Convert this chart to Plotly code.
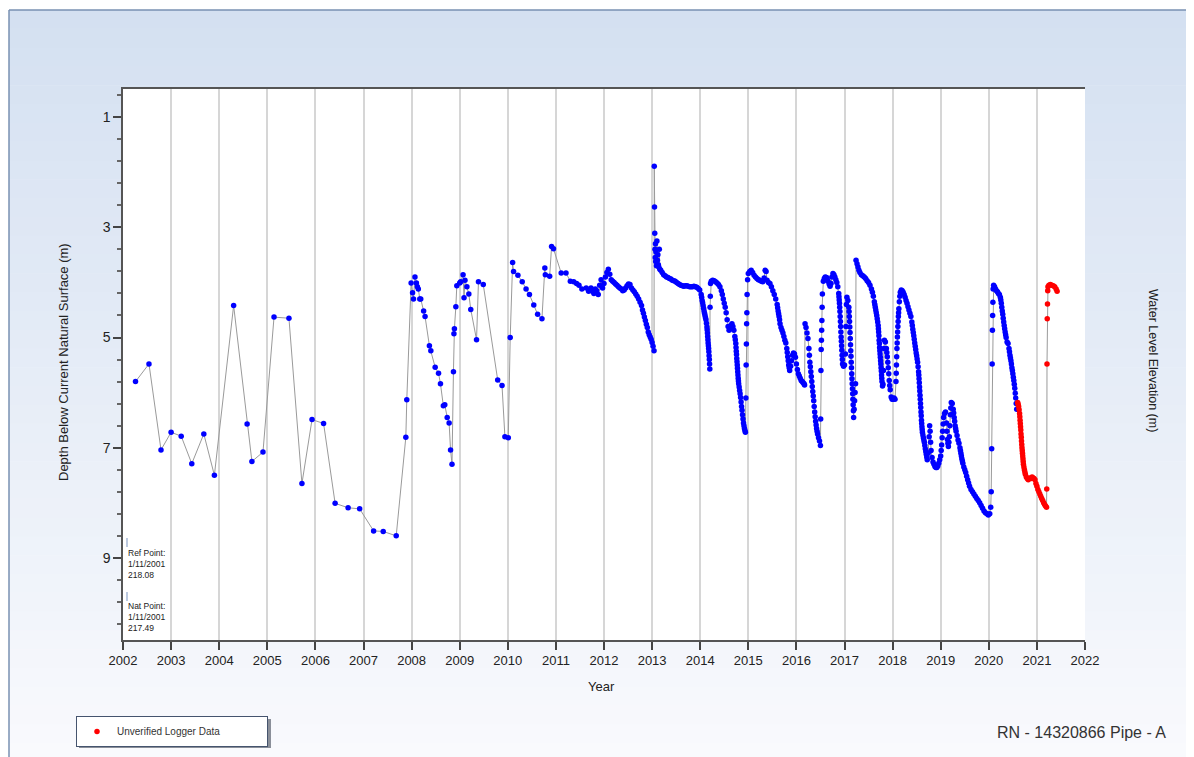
import plotly.graph_objects as go

# ---------------- data ----------------
manual_year = [2002.26, 2002.54, 2002.79, 2003.00, 2003.21, 2003.43, 2003.68, 2003.90,
               2004.30, 2004.58, 2004.68, 2004.91, 2005.14, 2005.45, 2005.72, 2005.93,
               2006.17, 2006.41, 2006.68, 2006.92, 2007.21, 2007.41, 2007.68]
manual_depth = [5.80, 5.48, 7.04, 6.72, 6.79, 7.29, 6.75, 7.50,
                4.42, 6.57, 7.25, 7.08, 4.63, 4.65, 7.65, 6.49,
                6.56, 8.01, 8.09, 8.11, 8.51, 8.52, 8.60]

logger_year = [
    2007.88, 2007.90, 2007.99, 2008.02, 2008.04, 2008.07, 2008.10, 2008.12, 2008.14, 2008.17,
    2008.19, 2008.25, 2008.28, 2008.37, 2008.40, 2008.49, 2008.56, 2008.60, 2008.66, 2008.69,
    2008.74, 2008.78, 2008.81, 2008.84, 2008.87, 2008.88, 2008.89, 2008.92, 2008.94, 2009.00,
    2009.02, 2009.07, 2009.09, 2009.11, 2009.15, 2009.19, 2009.23, 2009.35, 2009.39, 2009.49,
    2009.79, 2009.88, 2009.94, 2010.01, 2010.05, 2010.10, 2010.12, 2010.21, 2010.30, 2010.38,
    2010.45, 2010.54, 2010.62, 2010.71, 2010.77, 2010.78, 2010.87, 2010.91, 2010.95, 2011.11,
    2011.21, 2011.30, 2011.37, 2011.43, 2011.48, 2011.54, 2011.63, 2011.68,
    2011.70, 2011.73, 2011.76, 2011.79, 2011.82, 2011.85, 2011.88, 2011.91, 2011.94, 2011.97,
    2012.00, 2012.03, 2012.06, 2012.09, 2012.12, 2012.15, 2012.18, 2012.21, 2012.24, 2012.27,
    2012.30, 2012.33, 2012.36, 2012.39, 2012.42, 2012.45, 2012.48, 2012.51, 2012.54, 2012.57,
    2012.60, 2012.63, 2012.66, 2012.69, 2012.72, 2012.75, 2012.78, 2012.80, 2012.82, 2012.84,
    2012.86, 2012.88, 2012.90, 2012.92, 2012.94, 2012.96, 2012.98, 2013.00, 2013.02, 2013.04,
    2013.045, 2013.05, 2013.055, 2013.06, 2013.065, 2013.07, 2013.075, 2013.08, 2013.09, 2013.10,
    2013.11, 2013.12, 2013.13, 2013.14, 2013.15, 2013.16, 2013.18, 2013.21, 2013.24, 2013.27,
    2013.30, 2013.33, 2013.36, 2013.39, 2013.42, 2013.45, 2013.48, 2013.51, 2013.54, 2013.57,
    2013.60, 2013.63, 2013.66, 2013.69, 2013.72, 2013.75, 2013.78, 2013.81, 2013.84, 2013.87,
    2013.90, 2013.93, 2013.96, 2013.99, 2014.02, 2014.04, 2014.06, 2014.08, 2014.10, 2014.12,
    2014.14, 2014.15, 2014.16, 2014.17, 2014.18, 2014.19, 2014.20, 2014.205, 2014.21, 2014.215,
    2014.23, 2014.26, 2014.29, 2014.32, 2014.35, 2014.38, 2014.41, 2014.44, 2014.46, 2014.48,
    2014.50, 2014.52, 2014.54, 2014.56, 2014.58, 2014.60, 2014.62, 2014.64, 2014.66, 2014.68,
    2014.70, 2014.72, 2014.74, 2014.75, 2014.76, 2014.77, 2014.78, 2014.79, 2014.80, 2014.82,
    2014.84, 2014.86, 2014.88, 2014.90, 2014.92, 2014.94, 2014.95, 2014.955, 2014.96, 2014.965,
    2014.97, 2014.975, 2014.985, 2015.00, 2015.03, 2015.06, 2015.09, 2015.12, 2015.15, 2015.18,
    2015.21, 2015.24, 2015.27, 2015.30, 2015.33, 2015.35, 2015.37, 2015.39, 2015.42, 2015.45,
    2015.48, 2015.51, 2015.54, 2015.57, 2015.60, 2015.62, 2015.64, 2015.66, 2015.68, 2015.70,
    2015.72, 2015.74, 2015.76, 2015.78, 2015.80, 2015.82, 2015.84, 2015.86, 2015.88, 2015.90,
    2015.92, 2015.94, 2015.96, 2015.98, 2016.00, 2016.02, 2016.04, 2016.06, 2016.08, 2016.10,
    2016.12, 2016.14, 2016.16, 2016.17, 2016.18, 2016.20, 2016.22, 2016.24, 2016.26, 2016.28,
    2016.30, 2016.32, 2016.34, 2016.36, 2016.38, 2016.40, 2016.42, 2016.44, 2016.46, 2016.48,
    2016.50, 2016.505, 2016.51, 2016.515, 2016.52, 2016.525, 2016.53, 2016.535, 2016.54, 2016.56,
    2016.58, 2016.60, 2016.62, 2016.64, 2016.66, 2016.68, 2016.70, 2016.72, 2016.74, 2016.76,
    2016.78, 2016.80, 2016.82, 2016.84, 2016.86, 2016.88, 2016.89, 2016.90, 2016.91, 2016.92,
    2016.93, 2016.94, 2016.95, 2016.96, 2016.98, 2017.00, 2017.02, 2017.03, 2017.04, 2017.05,
    2017.07, 2017.09, 2017.10, 2017.11, 2017.12, 2017.13, 2017.14, 2017.15, 2017.16, 2017.17,
    2017.18, 2017.19, 2017.20, 2017.21, 2017.22, 2017.23, 2017.24, 2017.26, 2017.28, 2017.30,
    2017.32, 2017.35, 2017.38, 2017.41, 2017.44, 2017.47, 2017.50, 2017.53, 2017.56, 2017.58,
    2017.60, 2017.62, 2017.64, 2017.66, 2017.68, 2017.70, 2017.71, 2017.72, 2017.73, 2017.74,
    2017.75, 2017.76, 2017.77, 2017.78, 2017.79, 2017.80, 2017.81, 2017.82, 2017.83, 2017.85,
    2017.87, 2017.89, 2017.91, 2017.93, 2017.95, 2017.97, 2017.99, 2018.01, 2018.03, 2018.05,
    2018.07, 2018.08, 2018.09, 2018.10, 2018.11, 2018.12, 2018.13, 2018.14, 2018.15, 2018.16,
    2018.18, 2018.20, 2018.22, 2018.24, 2018.26, 2018.28, 2018.30, 2018.32, 2018.34, 2018.36,
    2018.38, 2018.40, 2018.42, 2018.44, 2018.46, 2018.48, 2018.50, 2018.52, 2018.54, 2018.55,
    2018.56, 2018.57, 2018.58, 2018.59, 2018.60, 2018.61, 2018.62, 2018.64, 2018.66, 2018.68,
    2018.70, 2018.72, 2018.74, 2018.76, 2018.77, 2018.78, 2018.79, 2018.80, 2018.82, 2018.84,
    2018.86, 2018.88, 2018.90, 2018.92, 2018.94, 2018.96, 2018.98, 2019.00, 2019.02, 2019.04,
    2019.06, 2019.08, 2019.10, 2019.12, 2019.14, 2019.16, 2019.18, 2019.20, 2019.22, 2019.24,
    2019.26, 2019.28, 2019.30, 2019.32, 2019.34, 2019.36, 2019.38, 2019.40, 2019.42, 2019.44,
    2019.46, 2019.48, 2019.50, 2019.52, 2019.54, 2019.56, 2019.58, 2019.60, 2019.63, 2019.66,
    2019.69, 2019.72, 2019.75, 2019.78, 2019.81, 2019.84, 2019.87, 2019.90, 2019.93, 2019.96,
    2019.99, 2020.02, 2020.04, 2020.05, 2020.06, 2020.07, 2020.075, 2020.08, 2020.085, 2020.09,
    2020.10, 2020.12, 2020.14, 2020.16, 2020.18, 2020.20, 2020.22, 2020.24, 2020.26, 2020.28,
    2020.30, 2020.32, 2020.34, 2020.36, 2020.38, 2020.40, 2020.42, 2020.44, 2020.46, 2020.48,
    2020.50, 2020.52, 2020.54, 2020.56, 2020.58]
logger_depth = [
    6.81, 6.13, 4.01, 4.19, 4.30, 3.90, 4.01, 4.08, 4.12, 4.30,
    4.30, 4.52, 4.62, 5.15, 5.24, 5.54, 5.65, 5.84, 6.24, 6.22,
    6.45, 6.55, 7.04, 7.30, 5.62, 4.93, 4.84, 4.44, 4.06, 4.01,
    3.99, 3.86, 4.28, 3.96, 4.08, 4.21, 4.49, 5.04, 3.99, 4.04,
    5.77, 5.87, 6.80, 6.82, 5.00, 3.64, 3.80, 3.87, 3.99, 4.12,
    4.22, 4.41, 4.58, 4.66, 3.74, 3.86, 3.89, 3.35, 3.39, 3.83,
    3.83, 3.98, 3.99, 4.02, 4.05, 4.12, 4.10, 4.16,
    4.14, 4.10, 4.16, 4.20, 4.12, 4.15, 4.22, 4.05, 3.95, 4.10,
    4.02, 3.90, 3.82, 3.76, 3.85, 3.95, 3.98, 4.00, 4.03, 4.05,
    4.08, 4.10, 4.12, 4.15, 4.14, 4.10, 4.06, 4.03, 4.04, 4.10,
    4.14, 4.17, 4.21, 4.25, 4.30, 4.36, 4.42, 4.50, 4.56, 4.63,
    4.69, 4.76, 4.82, 4.90, 4.95, 4.99, 5.03, 5.09, 5.16, 5.24,
    1.89, 2.63, 3.11, 3.40, 3.55, 3.30, 3.62, 3.45, 3.70, 3.25,
    3.60, 3.50, 3.68, 3.72, 3.40, 3.76, 3.78, 3.82, 3.86, 3.88,
    3.90, 3.91, 3.93, 3.94, 3.96, 3.97, 3.98, 4.00, 4.02, 4.04,
    4.05, 4.06, 4.07, 4.06, 4.06, 4.07, 4.08, 4.08, 4.08, 4.07,
    4.08, 4.09, 4.11, 4.14, 4.22, 4.33, 4.42, 4.52, 4.60, 4.68,
    4.81, 4.92, 5.04, 5.15, 5.26, 5.40, 5.57, 4.45, 4.25, 4.02,
    3.98, 3.96, 3.97, 3.99, 4.01, 4.04, 4.08, 4.15, 4.22, 4.30,
    4.38, 4.45, 4.55, 4.68, 4.80, 4.87, 4.83, 4.78, 4.75, 4.80,
    4.87, 4.98, 5.11, 5.25, 5.38, 5.50, 5.62, 5.74, 5.84, 5.96,
    6.09, 6.25, 6.40, 6.55, 6.65, 6.72, 6.10, 5.50, 5.12, 4.75,
    4.55, 4.22, 3.95, 3.84, 3.80, 3.78, 3.82, 3.87, 3.90, 3.93,
    3.95, 3.96, 3.98, 3.99, 3.92, 3.78, 3.80, 3.96, 4.00, 4.02,
    4.08, 4.15, 4.22, 4.30, 4.40, 4.52, 4.62, 4.75, 4.82, 4.87,
    4.92, 4.98, 5.05, 5.10, 5.20, 5.35, 5.50, 5.60, 5.52, 5.42,
    5.32, 5.28, 5.30, 5.36, 5.48, 5.58, 5.66, 5.70, 5.74, 5.78,
    5.80, 5.82, 5.84, 5.86, 4.75, 4.82, 4.92, 5.02, 5.20, 5.45,
    5.62, 5.80, 5.98, 6.15, 6.35, 6.52, 6.65, 6.75, 6.82, 6.88,
    6.96, 6.48, 5.60, 5.22, 5.05, 4.87, 4.69, 4.45, 4.21, 3.98,
    3.93, 3.90, 3.91, 3.92, 3.98, 4.03, 4.07, 4.02, 3.90, 3.84,
    3.86, 3.90, 3.95, 4.00, 4.08, 4.20, 4.32, 4.45, 4.62, 4.80,
    4.99, 5.15, 5.32, 5.48, 5.52, 5.50, 5.30, 4.80, 4.40, 4.27,
    4.33, 4.45, 4.62, 4.81, 5.02, 5.24, 5.45, 5.66, 5.84, 6.02,
    6.22, 6.45, 6.30, 6.15, 6.00, 5.84, 3.60, 3.66, 3.72, 3.78,
    3.82, 3.86, 3.88, 3.90, 3.93, 3.97, 4.00, 4.05, 4.12, 4.18,
    4.25, 4.35, 4.45, 4.55, 4.66, 4.78, 4.90, 5.05, 5.18, 5.30,
    5.42, 5.55, 5.68, 5.80, 5.88, 5.85, 5.60, 5.20, 5.05, 5.08,
    5.20, 5.35, 5.55, 5.78, 5.95, 6.08, 6.12, 6.12, 6.10, 6.12,
    5.80, 5.50, 5.20, 4.99, 4.80, 4.62, 4.48, 4.35, 4.25, 4.18,
    4.14, 4.15, 4.18, 4.22, 4.27, 4.33, 4.38, 4.44, 4.50, 4.56,
    4.62, 4.72, 4.85, 4.97, 5.10, 5.22, 5.33, 5.45, 5.62, 5.75,
    5.90, 6.05, 6.20, 6.35, 6.50, 6.62, 6.72, 6.82, 6.90, 7.02,
    7.12, 7.22, 7.10, 6.80, 6.60, 6.70, 6.90, 7.05, 7.18, 7.26,
    7.30, 7.34, 7.36, 7.36, 7.33, 7.28, 7.22, 7.15, 6.95, 6.70,
    6.45, 6.38, 6.35, 6.55, 6.85, 6.98, 6.80, 6.40, 6.18, 6.20,
    6.30, 6.45, 6.60, 6.70, 6.78, 6.86, 6.92, 7.00, 7.10, 7.20,
    7.28, 7.35, 7.40, 7.45, 7.52, 7.58, 7.64, 7.70, 7.76, 7.80,
    7.84, 7.88, 7.92, 7.96, 8.00, 8.05, 8.10, 8.15, 8.18, 8.20,
    8.22, 8.20, 8.08, 7.80, 7.02, 5.48, 4.87, 4.60, 4.36, 4.12,
    4.05, 4.08, 4.12, 4.15, 4.17, 4.20, 4.22, 4.27, 4.38, 4.52,
    4.65, 4.78, 4.90, 5.00, 5.08, 5.11, 5.20, 5.32, 5.42, 5.55,
    5.66, 5.78, 5.92, 6.10, 6.30]

# further readings on the steep stretches of the logger record
logger_extra_year = [
    2014.03, 2014.05, 2014.07, 2014.09, 2014.11, 2014.13, 2014.145, 2014.155, 2014.165, 2014.175,
    2014.185, 2014.195, 2014.73, 2014.745, 2014.755, 2014.765, 2014.775, 2014.785, 2014.795, 2014.81,
    2014.83, 2014.85, 2014.87, 2014.89, 2014.91, 2014.93, 2015.61, 2015.63, 2015.65, 2015.81,
    2015.83, 2015.85, 2016.27, 2016.29, 2016.31, 2016.33, 2016.35, 2016.37, 2016.39, 2016.41,
    2016.43, 2016.885, 2016.895, 2016.905, 2016.915, 2016.925, 2016.935, 2016.945, 2016.955, 2017.095,
    2017.105, 2017.115, 2017.125, 2017.135, 2017.145, 2017.155, 2017.165, 2017.175, 2017.185, 2017.63,
    2017.65, 2017.67, 2017.69, 2017.705, 2017.715, 2017.725, 2017.735, 2017.745, 2017.755, 2017.765,
    2017.775, 2017.88, 2017.90, 2017.92, 2017.94, 2018.075, 2018.085, 2018.095, 2018.105, 2018.115,
    2018.125, 2018.41, 2018.43, 2018.45, 2018.47, 2018.49, 2018.51, 2018.53, 2018.545, 2018.555,
    2018.565, 2018.575, 2018.585, 2018.595, 2018.605, 2018.615, 2018.63, 2018.65, 2018.67, 2018.69,
    2018.71, 2019.01, 2019.03, 2019.05, 2019.13, 2019.15, 2019.17, 2019.19, 2019.21, 2019.27,
    2019.29, 2019.31, 2019.41, 2019.43, 2019.45, 2020.25, 2020.27, 2020.29, 2020.31, 2020.33,
    2020.35, 2020.43, 2020.45, 2020.47, 2020.49, 2020.51, 2020.53, 2020.55, 2020.57]
logger_extra_depth = [
    4.27, 4.37, 4.47, 4.56, 4.64, 4.74, 4.86, 4.98, 5.10, 5.20,
    5.33, 5.48, 5.04, 5.18, 5.31, 5.44, 5.56, 5.68, 5.79, 5.90,
    6.02, 6.17, 6.32, 6.48, 6.60, 6.69, 4.46, 4.57, 4.68, 5.27,
    5.42, 5.55, 5.32, 5.53, 5.71, 5.89, 6.06, 6.25, 6.44, 6.59,
    6.70, 4.26, 4.38, 4.53, 4.71, 4.90, 5.07, 5.23, 5.40, 4.53,
    4.71, 4.91, 5.13, 5.34, 5.55, 5.75, 5.93, 6.12, 6.33, 4.40,
    4.50, 4.60, 4.72, 4.84, 4.97, 5.11, 5.24, 5.36, 5.48, 5.61,
    5.74, 5.27, 5.45, 5.66, 5.87, 5.65, 5.35, 5.10, 4.90, 4.71,
    4.55, 4.78, 4.91, 5.03, 5.16, 5.28, 5.39, 5.53, 5.68, 5.82,
    5.97, 6.12, 6.27, 6.42, 6.56, 6.67, 6.77, 6.86, 6.96, 7.07,
    7.17, 7.05, 6.82, 6.57, 6.70, 6.92, 6.90, 6.60, 6.28, 6.37,
    6.52, 6.65, 7.05, 7.15, 7.24, 4.32, 4.45, 4.58, 4.72, 4.84,
    4.95, 5.26, 5.37, 5.48, 5.60, 5.72, 5.85, 6.01, 6.20]

unverified_year = [
    2020.60, 2020.61, 2020.62, 2020.63, 2020.64, 2020.645, 2020.65, 2020.655, 2020.66, 2020.665,
    2020.67, 2020.675, 2020.68, 2020.685, 2020.69, 2020.695, 2020.70, 2020.705, 2020.71, 2020.715,
    2020.72, 2020.73, 2020.74, 2020.75, 2020.76, 2020.78, 2020.80, 2020.82, 2020.84, 2020.86,
    2020.88, 2020.90, 2020.92, 2020.94, 2020.96, 2020.98, 2021.00, 2021.02, 2021.04, 2021.06,
    2021.08, 2021.10, 2021.12, 2021.14, 2021.16, 2021.18, 2021.20, 2021.205, 2021.21, 2021.215,
    2021.22, 2021.225, 2021.23, 2021.25, 2021.28, 2021.31, 2021.34, 2021.37, 2021.40, 2021.42]
unverified_depth = [
    6.18, 6.21, 6.25, 6.31, 6.38, 6.44, 6.50, 6.56, 6.62, 6.68,
    6.75, 6.81, 6.88, 6.94, 7.00, 7.05, 7.10, 7.15, 7.20, 7.25,
    7.30, 7.35, 7.40, 7.44, 7.48, 7.53, 7.56, 7.58, 7.56, 7.55,
    7.56, 7.53, 7.55, 7.56, 7.58, 7.65, 7.70, 7.76, 7.80, 7.84,
    7.88, 7.92, 7.96, 8.00, 8.03, 8.06, 8.08, 7.75, 5.48, 4.66,
    4.39, 4.15, 4.08, 4.05, 4.04, 4.05, 4.06, 4.08, 4.12, 4.16]

year_ticks = list(range(2002, 2023))
depth_ticks = [1, 3, 5, 7, 9]
elev_ticks = [207, 209, 211, 213, 215, 217]
nat_point_elev = 217.49
legend_label = "Unverified Logger Data"
site_label = "RN - 14320866 Pipe - A"

# ---------------- geometry helpers (page pixels; page body has an 8px margin) ----------------
OFF = 8
WIN_W, WIN_H = 1194, 757
W, H = WIN_W - OFF, WIN_H - OFF
L, R, T, B = 123, 1085, 89, 640  # plot area in page pixels
PW, PH = R - L, B - T


def px(x):
    return (x - L) / PW


def py(y):
    return (B - y) / PH


FONT = "Liberation Sans, Arial, sans-serif"

# merge the logger readings in time order
pairs = sorted(zip(logger_year + logger_extra_year, logger_depth + logger_extra_depth))
logger_all_year = [p[0] for p in pairs]
logger_all_depth = [p[1] for p in pairs]

fig = go.Figure()

all_year = manual_year + logger_all_year + unverified_year
all_depth = manual_depth + logger_all_depth + unverified_depth
fig.add_trace(go.Scatter(x=all_year, y=all_depth, mode="lines",
                         line=dict(color="#9a9a9a", width=1), showlegend=False,
                         hoverinfo="skip"))
fig.add_trace(go.Scatter(x=manual_year + logger_all_year, y=manual_depth + logger_all_depth,
                         mode="markers", marker=dict(color="#0000ff", size=5.5),
                         showlegend=False, name="Logger Data"))
fig.add_trace(go.Scatter(x=unverified_year, y=unverified_depth, mode="markers",
                         marker=dict(color="#ff0000", size=5.5), name=legend_label,
                         showlegend=True))

# ---------------- background panel (gradient) ----------------
shapes = []
top_c = (212, 224, 241)
bot_c = (249, 250, 253)
y0p, y1p = 10, WIN_H + 5
n = 40
for i in range(n):
    a = y0p + (y1p - y0p) * i / n
    b = y0p + (y1p - y0p) * (i + 1) / n
    t = (i + 0.5) / n
    c = tuple(int(round(top_c[k] + (bot_c[k] - top_c[k]) * t)) for k in range(3))
    shapes.append(dict(type="rect", xref="paper", yref="paper", layer="below",
                       x0=px(9), x1=px(WIN_W + 5), y0=py(b + 0.5), y1=py(a),
                       line=dict(width=0), fillcolor="rgb(%d,%d,%d)" % c))
shapes.append(dict(type="rect", xref="paper", yref="paper", layer="below",
                   x0=0, x1=1, y0=0, y1=1, line=dict(width=0), fillcolor="white"))
shapes.append(dict(type="line", xref="paper", yref="paper", x0=px(9), x1=px(WIN_W + 5),
                   y0=py(10), y1=py(10), line=dict(color="#7890b2", width=1.5)))
shapes.append(dict(type="line", xref="paper", yref="paper", x0=px(9), x1=px(9),
                   y0=py(10), y1=py(WIN_H + 5), line=dict(color="#7890b2", width=1.5)))
# legend shadow (offset 2px right/down of the legend box)
LEG_X, LEG_Y, LEG_W, LEG_H = 76, 716, 192, 30
shapes.append(dict(type="rect", xref="paper", yref="paper",
                   x0=px(LEG_X + 3), x1=px(LEG_X + LEG_W + 3),
                   y0=py(LEG_Y + LEG_H + 2), y1=py(LEG_Y + 3),
                   line=dict(width=0), fillcolor="#8a8f99"))
for (ya, yb) in [(538, 547), (592, 601)]:
    shapes.append(dict(type="line", xref="paper", yref="paper", x0=px(127), x1=px(127),
                       y0=py(yb), y1=py(ya), line=dict(color="#8fa6cc", width=1.2)))

annotations = [
    dict(text="Depth Below Current Natural Surface (m)", x=px(63), y=py(362),
         xref="paper", yref="paper", textangle=-90, showarrow=False,
         xanchor="center", yanchor="middle",
         font=dict(family=FONT, size=13, color="#222")),
    dict(text="Water Level Elevation (m)", x=px(1153), y=py(360),
         xref="paper", yref="paper", textangle=90, showarrow=False,
         xanchor="center", yanchor="middle",
         font=dict(family=FONT, size=12.5, color="#222")),
    dict(text="Year", x=px(601), y=py(686), xref="paper", yref="paper",
         xanchor="center", yanchor="middle",
         showarrow=False, font=dict(family=FONT, size=13, color="#222")),
    dict(text=site_label, x=px(1168), y=py(733), xref="paper", yref="paper",
         xanchor="right", yanchor="middle", showarrow=False,
         font=dict(family=FONT, size=16, color="#333")),
    dict(text="Ref Point:<br>1/11/2001<br>218.08", x=px(126), y=py(546),
         xref="paper", yref="paper", xanchor="left", yanchor="top", align="left",
         showarrow=False, font=dict(family=FONT, size=8.5, color="#222")),
    dict(text="Nat Point:<br>1/11/2001<br>%.2f" % nat_point_elev, x=px(126), y=py(599),
         xref="paper", yref="paper", xanchor="left", yanchor="top", align="left",
         showarrow=False, font=dict(family=FONT, size=8.5, color="#222")),
]

axis_common = dict(ticks="outside", ticklen=8, tickwidth=1.5, tickcolor="#444",
                   showline=True, linecolor="#555", linewidth=1.5, zeroline=False,
                   tickfont=dict(family=FONT, size=14, color="#222"))

fig.update_layout(
    width=W, height=H,
    margin=dict(l=L - OFF, r=W - (R - OFF), t=T - OFF, b=H - (B - OFF), pad=0,
                autoexpand=False),
    paper_bgcolor="white", plot_bgcolor="white",
    xaxis=dict(range=[2002, 2022], tickvals=year_ticks, tickformat="d",
               showgrid=True, gridcolor="#d6d6d6", gridwidth=2, mirror=True,
               **{**axis_common, "tickfont": dict(family=FONT, size=13, color="#222")}),
    yaxis=dict(range=[nat_point_elev - 207, nat_point_elev - 217], tickvals=depth_ticks,
               showgrid=False,
               minor=dict(dtick=0.4, tick0=1, ticklen=4, ticks="outside", tickcolor="#666",
                          showgrid=False),
               **axis_common),
    yaxis2=dict(range=[207, 217], tickvals=elev_ticks, overlaying="y", side="right",
                showgrid=True, gridcolor="#d6d6d6", gridwidth=2,
                minor=dict(dtick=0.4, tick0=207, ticklen=4, ticks="outside", tickcolor="#666",
                           showgrid=False),
                **axis_common),
    showlegend=True,
    legend=dict(x=px(LEG_X), y=py(LEG_Y), xanchor="left", yanchor="top",
                orientation="h", entrywidth=145, bgcolor="white",
                bordercolor="#45546e", borderwidth=1,
                font=dict(family=FONT, size=10, color="#333"),
                itemsizing="trace"),
    shapes=shapes,
    annotations=annotations,
)

fig.write_html("out.html")
